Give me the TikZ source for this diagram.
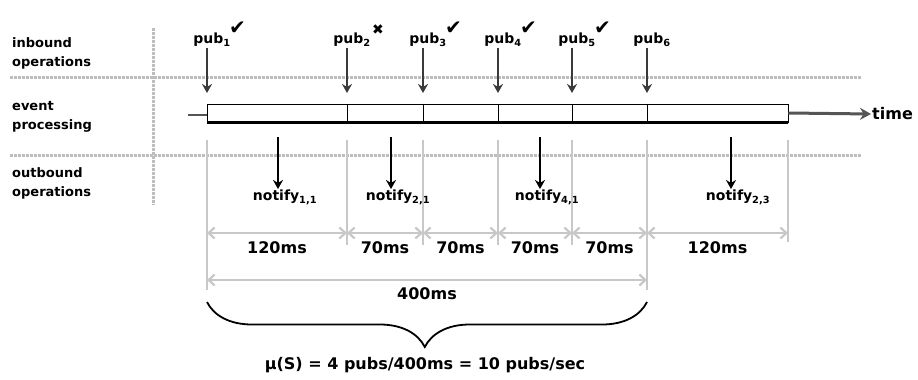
\documentclass[tikz,border=0pt]{standalone}
\usepackage{fontspec}
\setmainfont{DejaVu Sans}
\usetikzlibrary{arrows.meta, positioning, calc, decorations.pathreplacing}
\definecolor{laneGrey}{HTML}{BDBDBD}
\definecolor{dimGrey}{HTML}{C8C8C8}
\definecolor{pubGrey}{HTML}{3A3A3A}
\definecolor{axGrey}{HTML}{555555}

\begin{document}
\begin{tikzpicture}[x=1pt, y=-1pt, font=\bfseries,
  lane/.style={anchor=west, align=left, inner sep=0pt, font=\bfseries\fontsize{13}{19}\selectfont},
  sep/.style={laneGrey, line width=3pt, dash pattern=on 3pt off 1pt},
  pubtxt/.style={inner sep=1pt, font=\bfseries\fontsize{14}{16}\selectfont},
  okmark/.style={inner sep=0pt, anchor=south west, font=\fontsize{20}{20}\selectfont},
  pubar/.style={-{Stealth[length=9pt, width=10pt]}, pubGrey, line width=1.5pt},
  bar/.style={draw, fill=white, line width=0.8pt, minimum width=581pt,
              minimum height=18pt, inner sep=0pt},
  timear/.style={-{Stealth[length=11pt, width=12pt]}, axGrey, line width=3pt},
  notar/.style={-{Stealth[length=9pt, width=10pt]}, black, line width=1.7pt},
  notetxt/.style={inner sep=1pt, anchor=north, font=\bfseries\fontsize{14}{16}\selectfont},
  dimln/.style={dimGrey, line width=2pt},
  dimar/.style={{Straight Barb[length=6pt, width=11pt]}-{Straight Barb[length=6pt, width=11pt]},
                dimGrey, line width=2.2pt},
  dimtxt/.style={inner sep=2pt, text=black, below=6pt, font=\bfseries\fontsize{16}{18}\selectfont},
  brace/.style={decorate, decoration={brace, mirror, amplitude=45pt, aspect=0.495},
                line width=1.8pt},
]
\useasboundingbox (0,0) rectangle (918,380);

% lanes
\node[lane] (lin) at (12,53) {inbound\\operations};
\node[lane] (lev) at (12,117) {event\\processing};
\node[lane] (lout) at (12,183) {outbound\\operations};
\draw[sep] (10,77) -- (862,77);
\draw[sep] (10,155) -- (862,155);
\draw[sep] (153,28) -- (153,205);

% event processing bar
\node[bar] (bar) at (497.5,113) {};
\draw[line width=3pt] (bar.south west) -- (bar.south east);
\coordinate (t0) at (188,115);
\draw[axGrey, line width=2.5pt] (t0) -- (t0 -| bar.west);
\node[anchor=west, inner sep=1pt, font=\bfseries\fontsize{16}{18}\selectfont] (time) at (871,114) {time};
\draw[timear] (bar.east) -- (time.west);

\foreach \i/\x in {1/207,2/347,3/423,4/498,5/572,6/647,7/788}
  \coordinate (d\i) at (\x,140);
\foreach \i in {2,...,6}
  \draw (bar.north -| d\i) -- (bar.south -| d\i);

% inbound publications
\foreach \i/\x in {1/207,2/347,3/423,4/498,5/572,6/647} {
  \node[pubtxt] (pub\i) at (\x+5,40) {pub\textsubscript{\i}};
  \coordinate (hit\i) at (\x,93);
  \draw[pubar] (pub\i.south -| hit\i) -- (hit\i);
}
\foreach \i in {1,3,4,5}
  \node[okmark] (ok\i) at ([xshift=-3pt, yshift=-3pt]pub\i.north east) {✔};
\node[okmark, font=\fontsize{14}{14}\selectfont] (no2) at ([xshift=0pt, yshift=-3pt]pub2.north east) {✖};

% outbound notifications
\foreach \x/\s [count=\k] in {278/{1,1}, 391/{2,1}, 540/{4,1}, 731/{2,3}} {
  \coordinate (nsrc\k) at (\x,137);
  \node[notetxt] (ntf\k) at (\x+7,189) {notify\textsubscript{\s}};
  \draw[notar] (nsrc\k) -- (nsrc\k |- ntf\k.north);
}

% durations
\draw[dimln] (d1) -- ++(0,150);
\draw[dimln] (d6) -- ++(0,150);
\foreach \i in {2,...,5}
  \draw[dimln] (d\i) -- ++(0,105);
\draw[dimln] (d7) -- ++(0,102);
\foreach \a/\b/\t in {1/2/120ms, 2/3/70ms, 3/4/70ms, 4/5/70ms, 5/6/70ms, 6/7/120ms}
  \draw[dimar] ($(d\a)+(0,93)$) -- node[dimtxt] (dl\a) {\t} ($(d\b)+(0,93)$);
\draw[dimar] ($(d1)+(0,140)$) -- node[dimtxt, below=5pt] (dtot) {400ms} ($(d6)+(0,140)$);

% throughput
\draw[brace] ($(d1)+(0,162)$) -- ($(d6)+(0,162)$);
\node[font=\bfseries\fontsize{16}{18}\selectfont] (rate) at (425,365) {μ(S) = 4 pubs/400ms = 10 pubs/sec};
\end{tikzpicture}
\end{document}
